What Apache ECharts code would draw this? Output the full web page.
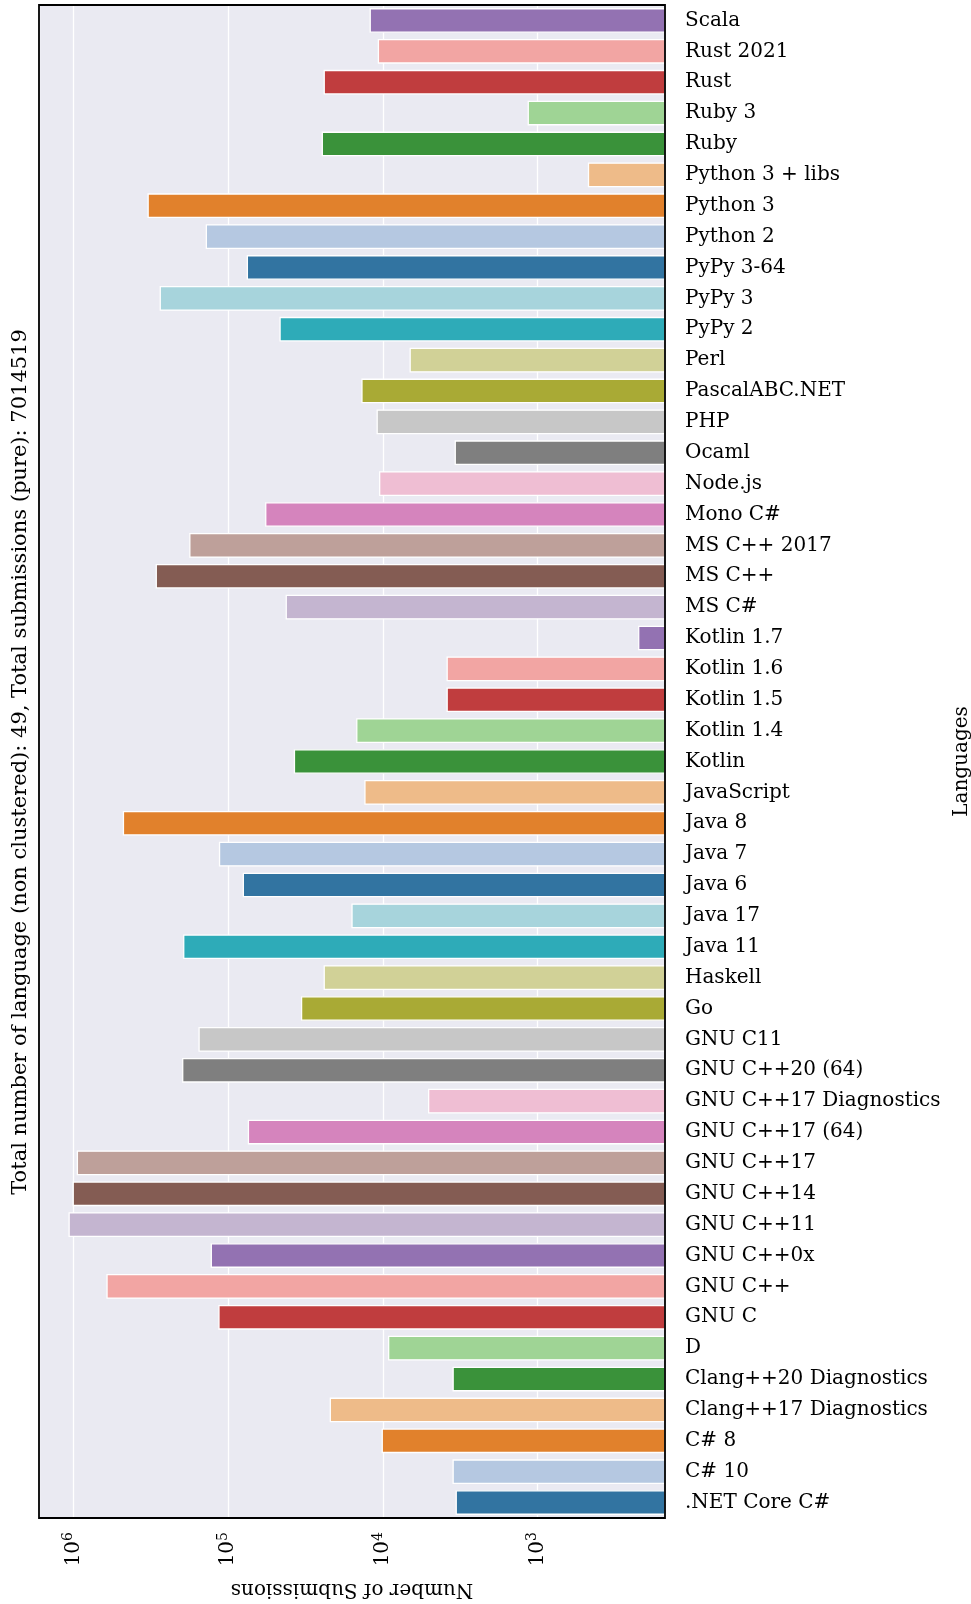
<!DOCTYPE html>
<html>
<head>
<meta charset="utf-8">
<script src="https://cdn.jsdelivr.net/npm/echarts@6/dist/echarts.min.js"></script>
<style>
  html, body { margin: 0; padding: 0; background: #fff; }
  #chart { width: 971px; height: 1604px; }
</style>
</head>
<body>
<div id="chart"></div>
<script>
// categories listed bottom -> top, like the category axis draws them
var languages = ['.NET Core C#', 'C# 10', 'C# 8', 'Clang++17 Diagnostics', 'Clang++20 Diagnostics', 'D',
  'GNU C', 'GNU C++', 'GNU C++0x', 'GNU C++11', 'GNU C++14', 'GNU C++17', 'GNU C++17 (64)',
  'GNU C++17 Diagnostics', 'GNU C++20 (64)', 'GNU C11', 'Go', 'Haskell', 'Java 11', 'Java 17',
  'Java 6', 'Java 7', 'Java 8', 'JavaScript', 'Kotlin', 'Kotlin 1.4', 'Kotlin 1.5', 'Kotlin 1.6',
  'Kotlin 1.7', 'MS C#', 'MS C++', 'MS C++ 2017', 'Mono C#', 'Node.js', 'Ocaml', 'PHP',
  'PascalABC.NET', 'Perl', 'PyPy 2', 'PyPy 3', 'PyPy 3-64', 'Python 2', 'Python 3',
  'Python 3 + libs', 'Ruby', 'Ruby 3', 'Rust', 'Rust 2021', 'Scala'];

var submissions = [3390, 3550, 10200, 22100, 3550, 9270,
  116000, 614000, 130000, 1080000, 1016000, 955000, 74800,
  5110, 199000, 156000, 33900, 24200, 196000, 16000,
  80700, 115000, 481000, 13200, 37700, 14900, 3880, 3880,
  224, 42600, 295000, 179000, 57800, 10600, 3440, 11000,
  13800, 6730, 46700, 278000, 76000, 140000, 333000,
  473, 24900, 1160, 24200, 10800, 12200];

// tab20, desaturated the way seaborn does it
var palette = ['#3274a1', '#b5c8e1', '#e1812c', '#eebb89', '#3a923a', '#9fd495', '#c03d3e', '#f2a5a3',
  '#9372b2', '#c4b5d0', '#845c53', '#bea09a', '#d584bd', '#efbed3', '#7f7f7f', '#c7c7c7',
  '#a9aa35', '#d1d197', '#2eabb8', '#a7d4dc'];

var xMin = 150, xMax = 1675000;
var titleText = 'Total number of language (non clustered): 49, Total submissions (pure): 7014519';
var serif = '"DejaVu Serif", serif';

// plot box
var gl = 39, gt = 5, gw = 626, gh = 1513;

var myChart = echarts.init(document.getElementById('chart'));

var option = {
  animation: false,
  backgroundColor: '#fff',
  textStyle: { fontFamily: serif, color: '#000' },
  grid: {
    left: gl, top: gt, width: gw, height: gh,
    outerBoundsMode: 'none',
    containLabel: false,
    show: true,
    backgroundColor: '#eaeaf2',
    borderWidth: 0
  },
  xAxis: {
    type: 'log',
    logBase: 10,
    inverse: true,
    min: xMin,
    max: xMax,
    axisLine: { show: false },
    axisTick: { show: false },
    splitLine: { show: true, lineStyle: { color: '#fff', width: 1.3 } },
    axisLabel: {
      rotate: 90,
      margin: 14,
      showMinLabel: false,
      showMaxLabel: false,
      fontFamily: serif,
      fontSize: 20,
      color: '#000',
      formatter: function (v) {
        var e = Math.log10(v);
        var n = Math.round(e);
        if (Math.abs(e - n) > 1e-6) return '';
        return '10{sup|' + n + '}';
      },
      rich: {
        sup: { fontSize: 14, fontFamily: serif, color: '#000', verticalAlign: 'top', padding: [0, 0, 10, 0] }
      }
    },
    name: 'Number of Submissions',
    nameLocation: 'middle',
    nameRotate: 180,
    nameGap: 61,
    nameTextStyle: { fontFamily: serif, fontSize: 20, color: '#000' }
  },
  yAxis: {
    type: 'category',
    position: 'right',
    data: languages,
    axisLine: { show: false },
    axisTick: { show: false },
    splitLine: { show: false },
    axisLabel: { margin: 20, fontFamily: serif, fontSize: 20, color: '#000' },
    name: 'Languages',
    nameLocation: 'middle',
    nameRotate: 90,
    nameGap: 280,
    nameTextStyle: { fontFamily: serif, fontSize: 20, color: '#000' }
  },
  graphic: [{
    type: 'text',
    x: 21,
    y: 762,
    rotation: Math.PI / 2,
    style: {
      text: titleText,
      font: '21px "DejaVu Serif", serif',
      fill: '#000',
      align: 'center',
      verticalAlign: 'middle'
    }
  }, {
    // black frame on top of the bars
    type: 'rect',
    z: 100,
    shape: { x: gl, y: gt, width: gw, height: gh },
    style: { fill: null, stroke: '#000', lineWidth: 1.8 }
  }],
  series: [{
    type: 'bar',
    data: submissions,
    barWidth: '80%',
    clip: true,
    itemStyle: {
      borderColor: '#fff',
      borderWidth: 1.3,
      color: function (p) { return palette[p.dataIndex % palette.length]; }
    }
  }]
};

myChart.setOption(option);
</script>
</body>
</html>
